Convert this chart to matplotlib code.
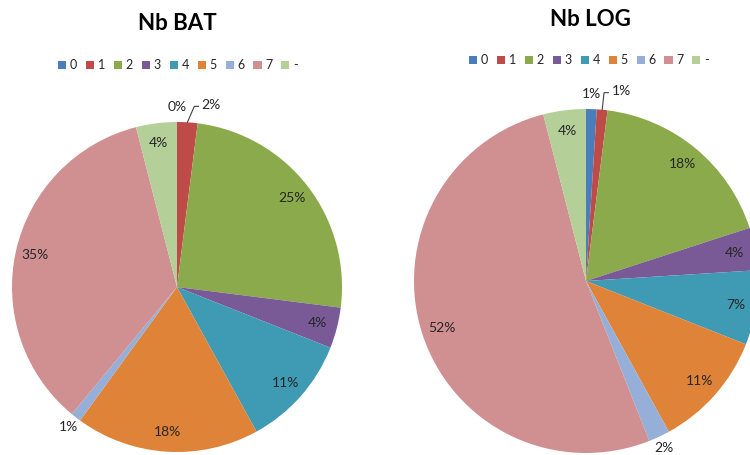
import numpy as np
import matplotlib
matplotlib.use("Agg")
import matplotlib.pyplot as plt
from matplotlib.patches import Rectangle

categories = ["0", "1", "2", "3", "4", "5", "6", "7", "-"]
bat_values = [0, 2, 25, 4, 11, 18, 1, 35, 4]
log_values = [1, 1, 18, 4, 7, 11, 2, 52, 4]
titles = ["Nb BAT", "Nb LOG"]

colors = ["#4A7EBB", "#BE4B48", "#8BAA4C", "#7A5A96", "#3F9AB3",
          "#DF8339", "#95AFD8", "#D09091", "#B4CF98"]

plt.rcParams['font.family'] = ['Lato', 'DejaVu Sans']

W, H = 750, 455
fig = plt.figure(figsize=(W / 100, H / 100), dpi=100)
fig.patch.set_facecolor("white")

# pixel geometry: (center x, center y (from top), radius)
geoms = [(177, 287, 165), (586, 281, 172)]
title_pos = [(177, 24), (590, 19)]
legend_pos = [(178, 65.5), (589, 60.5)]

txt_color = "#262626"


def draw_pie(values, geom, title, tpos, lpos):
    cx, cy, r = geom
    ax = fig.add_axes([(cx - r) / W, (H - cy - r) / H, 2 * r / W, 2 * r / H])
    wedges, _ = ax.pie(values, colors=colors, startangle=90, counterclock=False,
                       radius=1, wedgeprops=dict(linewidth=0))
    ax.set_xlim(-1, 1)
    ax.set_ylim(-1, 1)
    ax.set_aspect('auto')
    ax.axis('off')

    total = float(sum(values))
    prev_outside = False
    for i, (w, v) in enumerate(zip(wedges, values)):
        pct = 100 * v / total
        mid = np.deg2rad((w.theta1 + w.theta2) / 2)
        label = f"{pct:.0f}%"
        if pct <= 2.5:
            if prev_outside and i > 0:
                # shifted label with leader line
                ex, ey = np.cos(mid), np.sin(mid)
                ty = 1.105
                tx = 0.15
                ax.plot([ex, tx - 0.045, tx - 0.02], [ey, ty - 0.01, ty - 0.01],
                        color="#404040", lw=0.8, clip_on=False)
                ax.text(tx, ty, label, ha='left', va='center', fontsize=10,
                        color=txt_color)
            else:
                d = 1.09 if np.sin(mid) > 0 else 1.07
                ax.text(d * np.cos(mid), d * np.sin(mid), label, ha='center',
                        va='center', fontsize=10, color=txt_color)
            prev_outside = True
        else:
            d = 0.88
            ax.text(d * np.cos(mid), d * np.sin(mid), label, ha='center',
                    va='center', fontsize=10, color=txt_color)
            prev_outside = False

    fig.text(tpos[0] / W, 1 - tpos[1] / H, title, ha='center', va='center',
             fontsize=16, fontweight='bold', color="#000000")

    handles = [Rectangle((0, 0), 1, 1, facecolor=c, edgecolor='none') for c in colors]
    leg = fig.legend(handles, categories, loc='center',
                     bbox_to_anchor=(lpos[0] / W, 1 - lpos[1] / H),
                     ncol=len(categories), frameon=False, fontsize=9,
                     handlelength=0.65, handleheight=0.65, handletextpad=0.3,
                     columnspacing=0.7, borderpad=0, borderaxespad=0)
    for t in leg.get_texts():
        t.set_color(txt_color)


for vals, g, t, tp, lp in zip([bat_values, log_values], geoms, titles,
                              title_pos, legend_pos):
    draw_pie(vals, g, t, tp, lp)

fig.savefig("out.png", dpi=100, facecolor="white")
